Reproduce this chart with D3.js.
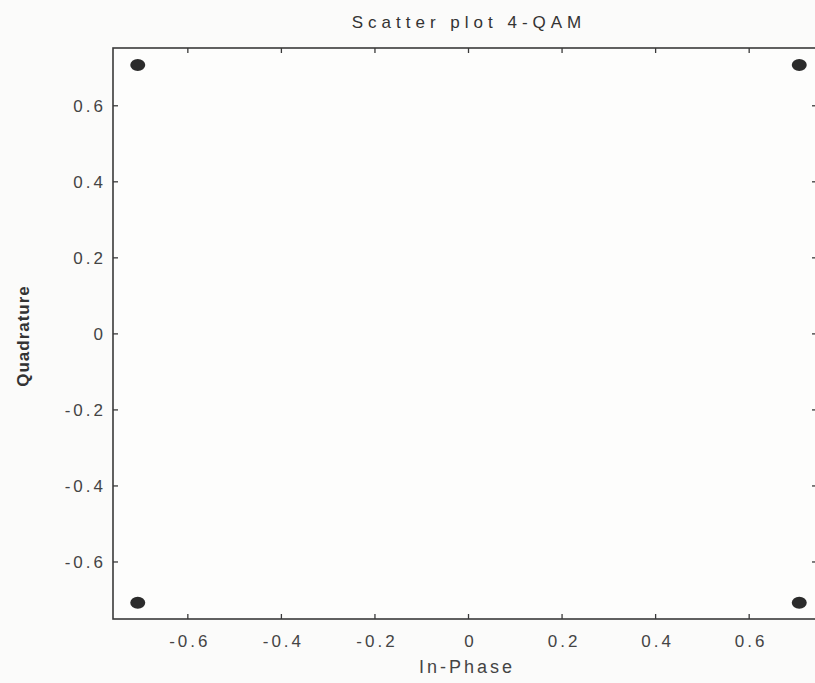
<!DOCTYPE html>
<html>
<head>
<meta charset="utf-8">
<script src="https://cdn.jsdelivr.net/npm/d3@7"></script>
<style>
  html, body { margin: 0; padding: 0; background: #fbfbfa; }
  svg { display: block; font-family: "Liberation Sans", Arial, sans-serif; }
</style>
</head>
<body>
<svg id="chart" width="815" height="683"></svg>
<script>
// 4-QAM constellation points
const inPhase    = [-0.7071, 0.7071, -0.7071, 0.7071];
const quadrature = [ 0.7071, 0.7071, -0.7071, -0.7071];
const xTicks = [-0.6, -0.4, -0.2, 0, 0.2, 0.4, 0.6];
const yTicks = [-0.6, -0.4, -0.2, 0, 0.2, 0.4, 0.6];
const tickLabel = v => v === 0 ? "0" : v.toFixed(1);

const svg = d3.select("#chart");
const pLeft = 113, pRight = 817, pTop = 48, pBottom = 619;

const x = d3.scaleLinear().domain([-0.76, 0.745]).range([pLeft, pRight]);
const y = d3.scaleLinear().domain([-0.75, 0.752]).range([pBottom, pTop]);

const ink = "#3a3a3a";

// frame
svg.append("rect")
  .attr("x", pLeft).attr("y", pTop)
  .attr("width", pRight - pLeft).attr("height", pBottom - pTop)
  .attr("fill", "#fdfdfc")
  .attr("stroke", ink).attr("stroke-width", 1.6);

// inward ticks on all four sides (matlab style)
const tl = 5;
const g = svg.append("g").attr("stroke", ink).attr("stroke-width", 1.3);
xTicks.forEach(v => {
  g.append("line").attr("x1", x(v)).attr("x2", x(v)).attr("y1", pBottom).attr("y2", pBottom - tl);
  g.append("line").attr("x1", x(v)).attr("x2", x(v)).attr("y1", pTop).attr("y2", pTop + tl);
});
yTicks.forEach(v => {
  g.append("line").attr("y1", y(v)).attr("y2", y(v)).attr("x1", pLeft).attr("x2", pLeft + tl);
  g.append("line").attr("y1", y(v)).attr("y2", y(v)).attr("x1", pRight).attr("x2", pRight - tl);
});

// tick labels
svg.append("g").selectAll("text").data(xTicks).join("text")
  .attr("x", d => x(d) + 2)
  .attr("y", 647)
  .attr("text-anchor", "middle")
  .attr("font-size", 17)
  .attr("letter-spacing", 3)
  .attr("fill", "#444")
  .text(tickLabel);

svg.append("g").selectAll("text").data(yTicks).join("text")
  .attr("x", 106)
  .attr("y", d => y(d) + 6)
  .attr("text-anchor", "end")
  .attr("font-size", 17)
  .attr("letter-spacing", 3)
  .attr("fill", "#444")
  .text(tickLabel);

// points
svg.append("g").selectAll("ellipse").data(inPhase).join("ellipse")
  .attr("cx", d => x(d))
  .attr("cy", (d, i) => y(quadrature[i]))
  .attr("rx", 7.5).attr("ry", 6)
  .attr("fill", "#2b2b2b");

// titles
svg.append("text")
  .attr("x", 469).attr("y", 28)
  .attr("text-anchor", "middle")
  .attr("font-size", 17)
  .attr("letter-spacing", 5)
  .attr("fill", "#333")
  .text("Scatter plot 4-QAM");

svg.append("text")
  .attr("x", 467).attr("y", 673)
  .attr("text-anchor", "middle")
  .attr("font-size", 18)
  .attr("letter-spacing", 3)
  .attr("fill", "#444")
  .text("In-Phase");

svg.append("text")
  .attr("transform", "translate(29,336) rotate(-90)")
  .attr("text-anchor", "middle")
  .attr("font-size", 17)
  .attr("font-weight", "bold")
  .attr("letter-spacing", 1)
  .attr("fill", "#333")
  .text("Quadrature");
</script>
</body>
</html>
